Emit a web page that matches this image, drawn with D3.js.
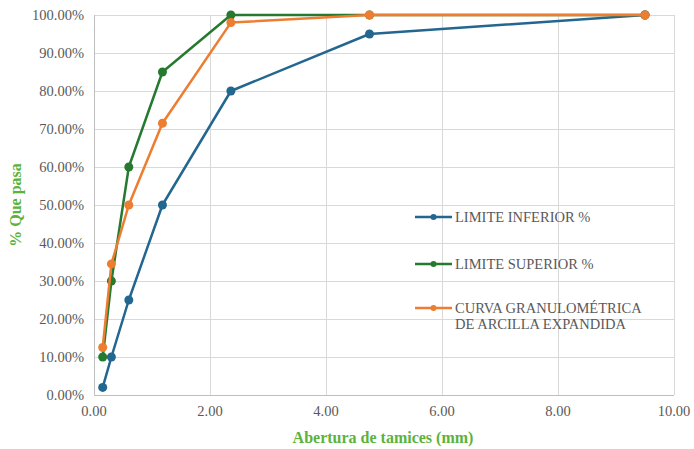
<!DOCTYPE html>
<html><head><meta charset="utf-8">
<script src="https://cdn.jsdelivr.net/npm/d3@7"></script>
<style>body{margin:0;background:#fff}svg{display:block}text{font-family:"Liberation Serif","DejaVu Serif",serif}</style>
</head><body><svg id="c" width="694" height="449"></svg>
<script>
const sieves = [0.15, 0.3, 0.6, 1.18, 2.36, 4.75, 9.5];
const lowerLimit = [2, 10, 25, 50, 80, 95, 100];
const upperLimit = [10, 30, 60, 85, 100, 100, 100];
const curve = [12.5, 34.5, 50, 71.5, 98, 100, 100];
const seriesNames = ["LIMITE INFERIOR %", "LIMITE SUPERIOR %", ["CURVA GRANULOMÉTRICA", "DE ARCILLA EXPANDIDA"]];
const xTicks = [0, 2, 4, 6, 8, 10];
const yTicks = [0, 10, 20, 30, 40, 50, 60, 70, 80, 90, 100];
const colors = ["#23668f", "#267a2f", "#ed7d31"];

const svg = d3.select("#c");
const L = 94, R = 674, T = 15, B = 395;
const x = d3.scaleLinear().domain([0, 10]).range([L, R]);
const y = d3.scaleLinear().domain([0, 100]).range([B, T]);

// grid
svg.append("g").selectAll("line.h").data(yTicks).join("line")
  .attr("x1", L).attr("x2", R).attr("y1", d => y(d)).attr("y2", d => y(d))
  .attr("stroke", "#d9d9d9").attr("stroke-width", 1).attr("shape-rendering", "crispEdges");
svg.append("g").selectAll("line.v").data(xTicks).join("line")
  .attr("x1", d => x(d)).attr("x2", d => x(d)).attr("y1", T).attr("y2", B)
  .attr("stroke", "#d9d9d9").attr("stroke-width", 1).attr("shape-rendering", "crispEdges");
svg.append("line").attr("x1", L).attr("x2", R).attr("y1", B).attr("y2", B).attr("stroke", "#bfbfbf").attr("shape-rendering", "crispEdges");
svg.append("line").attr("x1", L).attr("x2", L).attr("y1", T).attr("y2", B).attr("stroke", "#bfbfbf").attr("shape-rendering", "crispEdges");

// tick labels
svg.append("g").selectAll("text").data(yTicks).join("text")
  .attr("x", L - 10).attr("y", d => y(d)).attr("dy", "0.35em")
  .attr("text-anchor", "end").attr("font-size", 14.5).attr("fill", "#595959")
  .text(d => d.toFixed(2) + "%");
svg.append("g").selectAll("text").data(xTicks).join("text")
  .attr("x", d => x(d)).attr("y", B + 21)
  .attr("text-anchor", "middle").attr("font-size", 14.5).attr("fill", "#595959")
  .text(d => d.toFixed(2));

// axis titles
svg.append("text").attr("x", x(5) - 1).attr("y", 443).attr("text-anchor", "middle")
  .attr("font-size", 16).attr("font-weight", "bold").attr("fill", "#5bb33b")
  .text("Abertura de tamices (mm)");
svg.append("text").attr("transform", `translate(21,${(T + B) / 2}) rotate(-90)`).attr("text-anchor", "middle")
  .attr("font-size", 16).attr("font-weight", "bold").attr("fill", "#5bb33b")
  .text("% Que pasa");

// series
const series = [lowerLimit, upperLimit, curve];
const line = d3.line().x((d, i) => x(sieves[i])).y(d => y(d));
series.forEach((s, k) => {
  const g = svg.append("g");
  g.append("path").datum(s).attr("d", line).attr("fill", "none")
    .attr("stroke", colors[k]).attr("stroke-width", 2.5).attr("stroke-linejoin", "round");
  g.selectAll("circle").data(s).join("circle")
    .attr("cx", (d, i) => x(sieves[i])).attr("cy", d => y(d)).attr("r", 4.5)
    .attr("fill", colors[k]);
});

// legend
const legY = [217, 264, 308];
seriesNames.forEach((n, k) => {
  const g = svg.append("g");
  g.append("line").attr("x1", 415).attr("x2", 452).attr("y1", legY[k]).attr("y2", legY[k])
    .attr("stroke", colors[k]).attr("stroke-width", 2.5);
  g.append("circle").attr("cx", 433.5).attr("cy", legY[k]).attr("r", 3).attr("fill", colors[k]);
  const lines = Array.isArray(n) ? n : [n];
  lines.forEach((t, j) => {
    g.append("text").attr("x", 455).attr("y", legY[k] + j * 16).attr("dy", "0.35em")
      .attr("font-size", 14.5).attr("fill", "#595959").text(t);
  });
});
</script></body></html>
